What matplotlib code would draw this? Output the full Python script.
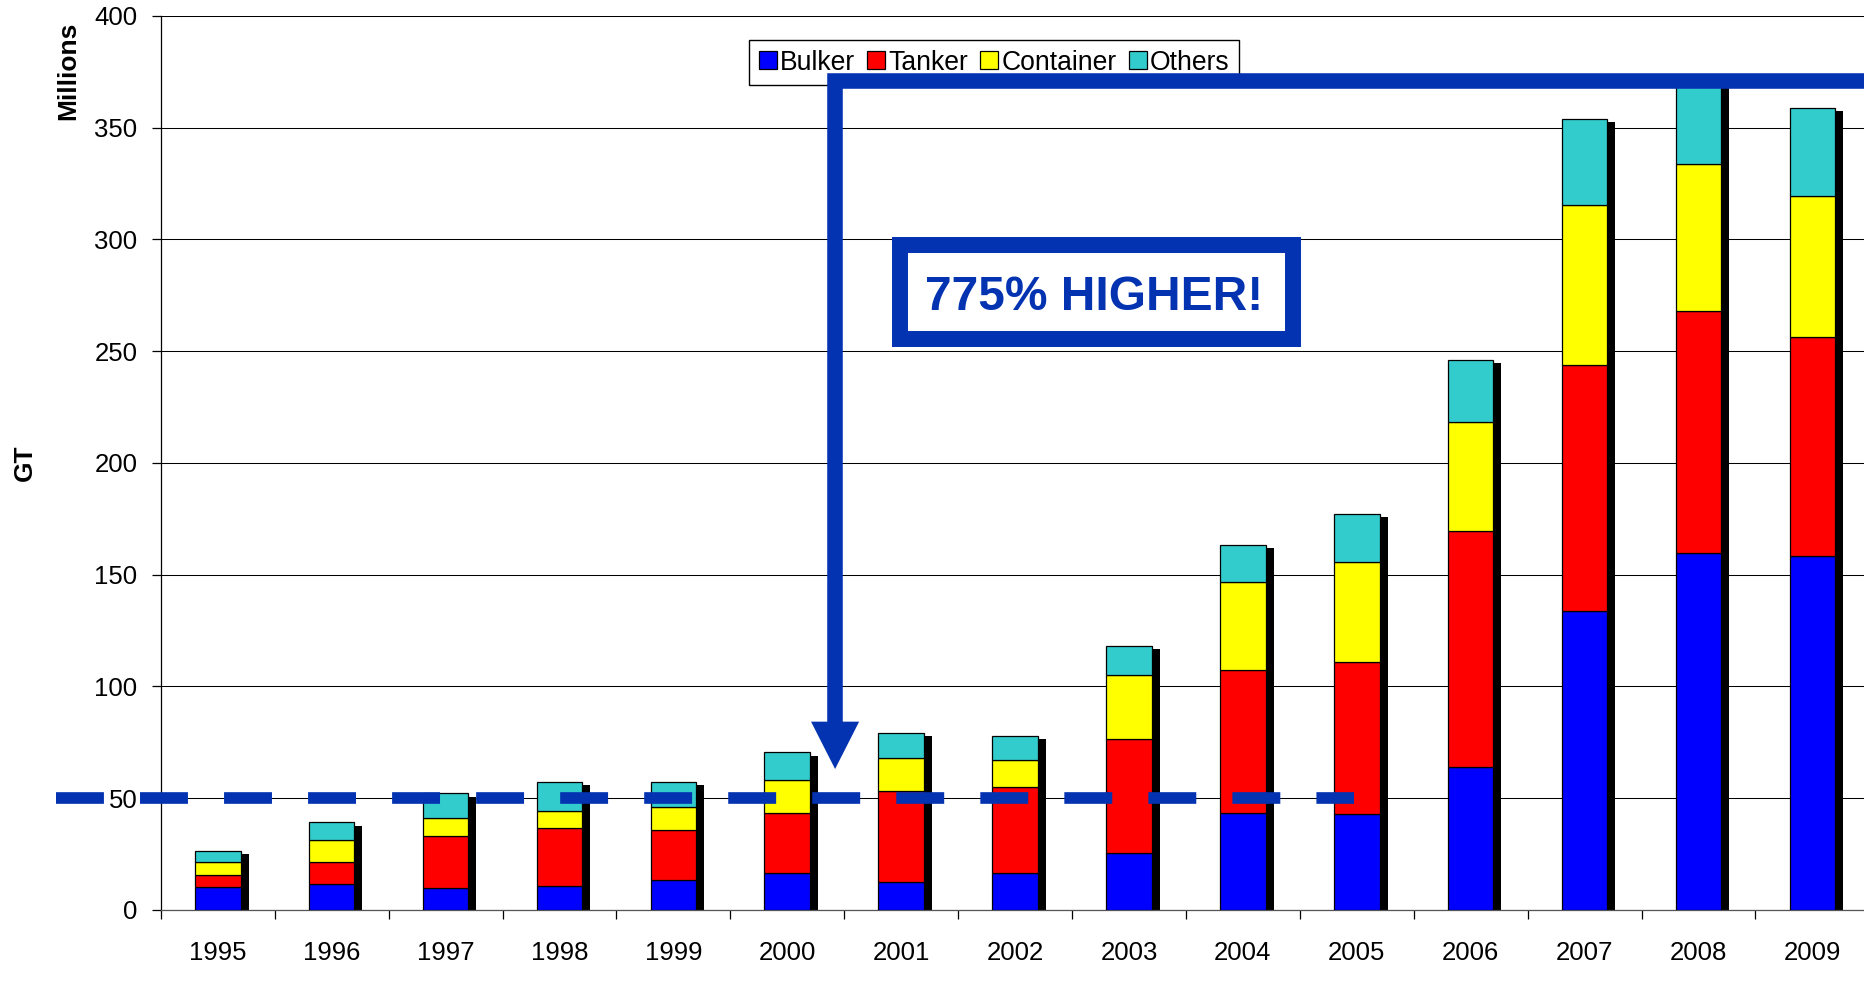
import matplotlib
matplotlib.use('Agg')
import matplotlib.pyplot as plt
import numpy as np
from matplotlib.patches import Rectangle, Polygon, Patch

plt.rcParams['font.family'] = ['Liberation Sans', 'DejaVu Sans']
plt.rcParams['lines.scale_dashes'] = False

# ---------------- data ----------------
years = ['1995', '1996', '1997', '1998', '1999', '2000', '2001', '2002',
         '2003', '2004', '2005', '2006', '2007', '2008', '2009']
bulker = [10.0, 11.4, 9.9, 10.6, 13.2, 16.5, 12.3, 16.5, 25.6, 43.4, 42.7, 64.1, 133.7, 159.9, 158.4]
tanker = [5.6, 9.9, 23.0, 26.2, 22.7, 26.9, 41.0, 38.6, 50.7, 64.1, 68.1, 105.5, 109.9, 108.2, 98.0]
container = [5.7, 9.8, 8.1, 7.5, 9.9, 14.7, 14.8, 12.1, 28.6, 39.4, 45.0, 48.6, 71.8, 65.5, 63.0]
others = [5.0, 8.1, 11.2, 12.9, 11.4, 12.3, 11.2, 10.6, 13.2, 16.4, 21.3, 27.8, 38.6, 37.4, 39.6]
series_names = ['Bulker', 'Tanker', 'Container', 'Others']
series_colors = ['#0000FF', '#FF0000', '#FFFF00', '#33CCCC']
y_ticks = [0, 50, 100, 150, 200, 250, 300, 350, 400]

reference_level = 50          # dashed reference line (Millions GT)
arrow_top = 371.1             # level of horizontal arrow segment
arrow_x = 5.42                # between 2000 and 2001
annotation_text = '775% HIGHER!'

ANNOT_BLUE = '#0433B2'

# ---------------- figure ----------------
W, H = 1864, 990
fig = plt.figure(figsize=(W / 100, H / 100), dpi=100)
ax = fig.add_axes([160.8 / W, 1 - 909.8 / H, 1708.5 / W, 893.8 / H])

n = len(years)
x = np.arange(n)
ax.set_xlim(-0.5, n - 0.5)
ax.set_ylim(y_ticks[0], y_ticks[-1])

series = [np.array(bulker), np.array(tanker), np.array(container), np.array(others)]
totals = np.sum(series, axis=0)

bar_w = 0.4
# drop shadow
ax.bar(x + 0.07, totals - 1.5, width=bar_w, color='black', linewidth=0, zorder=2)

bottom = np.zeros(n)
handles = []
for vals, name, col in zip(series, series_names, series_colors):
    ax.bar(x, vals, width=bar_w, bottom=bottom, color=col, edgecolor='black',
           linewidth=0.9, zorder=3)
    bottom += vals
    handles.append(Patch(facecolor=col, edgecolor='black', linewidth=0.9, label=name))

# axes styling
ax.set_yticks(y_ticks)
ax.yaxis.grid(True, color='black', linewidth=0.75, zorder=0)
ax.set_axisbelow(True)
for s in ['top', 'right']:
    ax.spines[s].set_visible(False)
ax.spines['left'].set_linewidth(0.9)
ax.spines['bottom'].set_linewidth(0.9)
ax.spines['bottom'].set_color('#555555')

ax.set_xticks(x)
ax.set_xticklabels(years)
ax.set_xticks(np.arange(-0.5, n), minor=True)
ax.tick_params(axis='x', which='major', length=0, pad=22.5, labelsize=18.5)
ax.tick_params(axis='x', which='minor', length=6.3, width=0.9, direction='out', color='black')
ax.tick_params(axis='y', which='major', length=6.8, width=0.9, direction='out', pad=10,
               labelsize=18.5)

# axis titles
fig.text(68 / W, 1 - 71 / H, 'Millions', rotation=90, ha='center', va='center',
         fontsize=19, fontweight='bold')
fig.text(25 / W, 1 - 462.5 / H, 'GT', rotation=90, ha='center', va='center',
         fontsize=19, fontweight='bold')

# legend
leg = ax.legend(handles=handles, loc='upper left', bbox_to_anchor=(749 / W, 1 - 40 / H),
                bbox_transform=fig.transFigure, ncol=4, frameon=True, fancybox=False,
                shadow=False, borderaxespad=0, borderpad=0.36, handlelength=0.68,
                handleheight=0.68, handletextpad=0.12, columnspacing=0.46, fontsize=19.1,
                edgecolor='black', framealpha=1)
leg.get_frame().set_linewidth(1.0)
leg.set_zorder(5)

# dashed reference line
ax.plot([-1.423, 9.972], [reference_level, reference_level], color=ANNOT_BLUE,
        linewidth=8.4, dashes=(34.5, 26.0), dash_capstyle='butt', clip_on=False, zorder=6)

# arrow polyline
head_base = 84.2
head_tip = 63.0
head_half = 0.211
ax.plot([n + 0.2, arrow_x, arrow_x], [arrow_top, arrow_top, head_base], color=ANNOT_BLUE,
        linewidth=11.2, solid_joinstyle='miter', solid_capstyle='butt', clip_on=True, zorder=7)
ax.add_patch(Polygon([(arrow_x - head_half, head_base), (arrow_x + head_half, head_base),
                      (arrow_x, head_tip)], closed=True, facecolor=ANNOT_BLUE,
                     edgecolor='none', zorder=7))

# annotation box
ax.add_patch(Rectangle((5.986, 255.6), 9.443 - 5.986, 297.4 - 255.6, facecolor='white',
                       edgecolor=ANNOT_BLUE, linewidth=11.5, joinstyle='miter', zorder=6))
ax.text(7.695, 268.4, annotation_text, ha='center', va='baseline', fontsize=34.5,
        fontweight='bold', color=ANNOT_BLUE, zorder=8)

fig.savefig('out.png', dpi=100)
